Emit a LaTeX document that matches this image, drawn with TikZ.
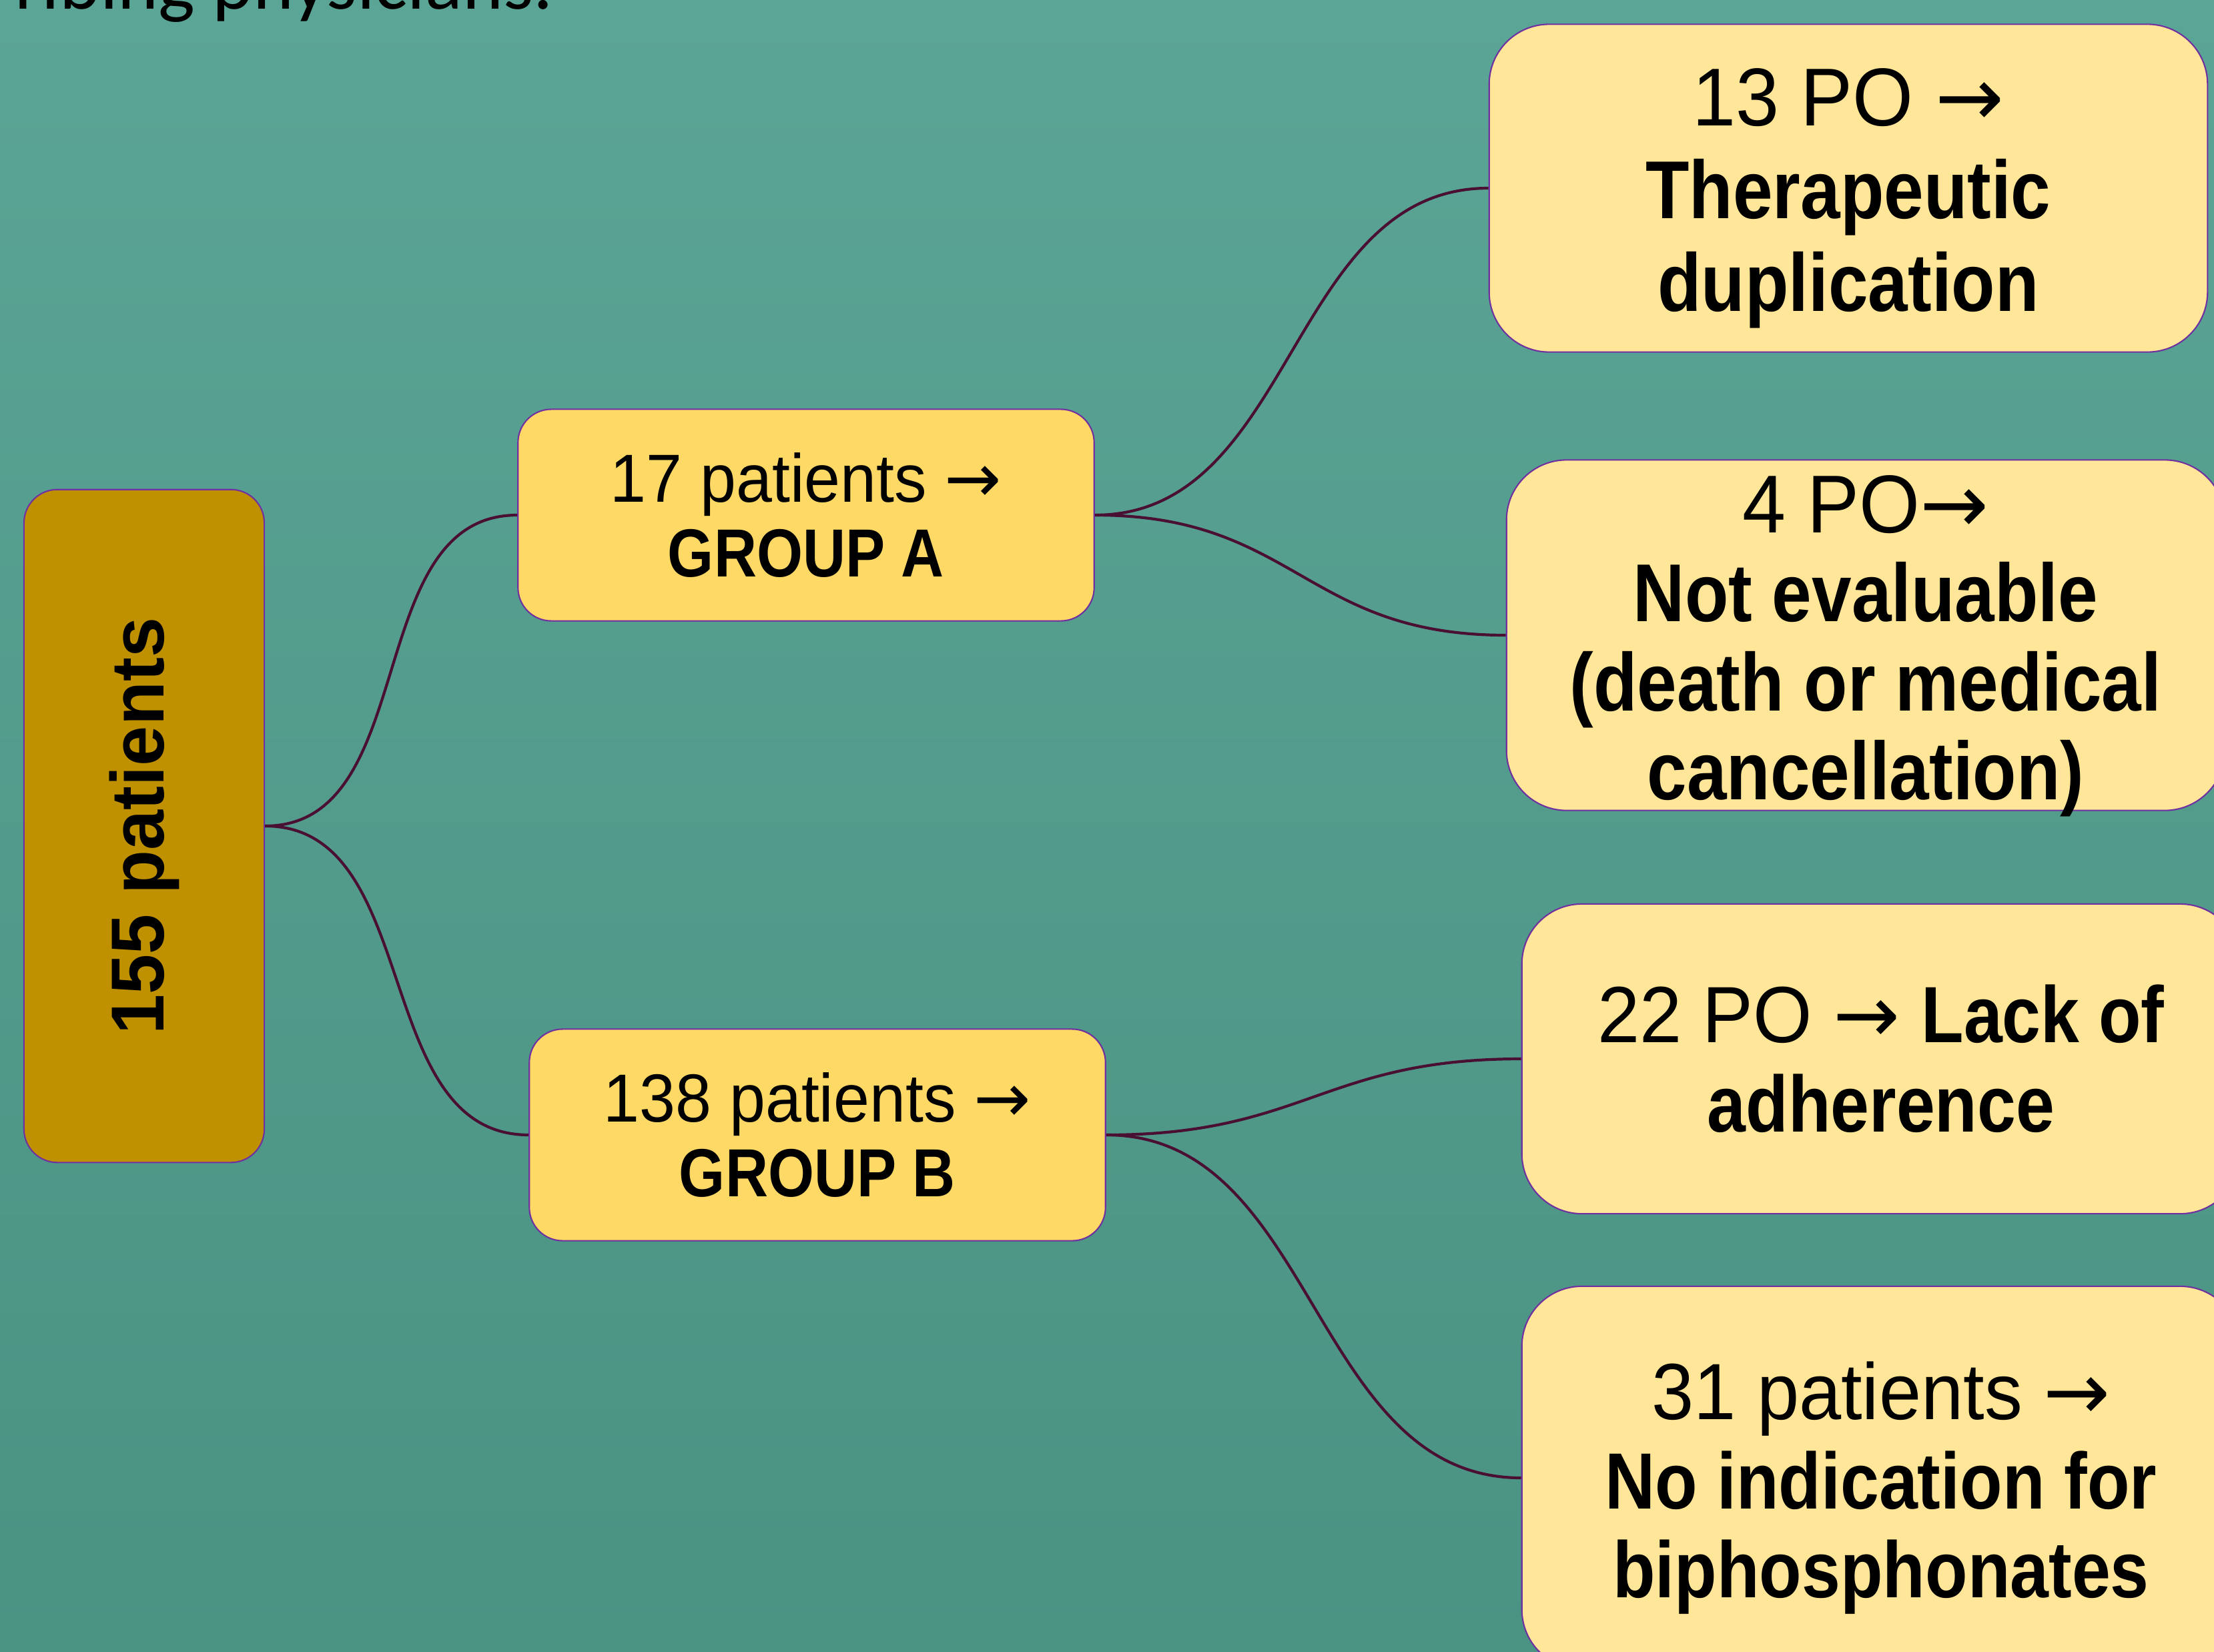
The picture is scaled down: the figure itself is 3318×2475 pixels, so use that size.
\documentclass[tikz,border=0pt]{standalone}
\usepackage{fontspec}
\setmainfont{Liberation Sans}[FakeStretch=0.95, BoldFeatures={FakeStretch=0.87}]
\newfontfamily\rootfont{Liberation Sans}[FakeStretch=0.96]
\newfontfamily\slidefont{Carlito}
\newfontfamily\arrowfont{DejaVu Sans}
\newcommand{\toarrow}{{\arrowfont\mdseries →}}
\newcommand{\lowstrut}[1][1.17cm]{\rule{0pt}{#1}}
\usepackage{xcolor}
\usepackage{tikz}

\definecolor{bgtop}{HTML}{5BA596}
\definecolor{bgbottom}{HTML}{4A9282}
\definecolor{rootgold}{HTML}{BF9000}
\definecolor{groupyellow}{HTML}{FFD966}
\definecolor{leafyellow}{HTML}{FFE699}
\definecolor{boxline}{HTML}{7030A0}
\definecolor{linkpurple}{HTML}{4A1034}

\begin{document}
\begin{tikzpicture}[x=0.01cm, y=-0.01cm,
		every node/.style={draw=boxline, line width=0.6pt, align=center, inner sep=0pt},
		rootbox/.style={fill=rootgold, rounded corners=0.5cm, minimum width=3.6cm, minimum height=10.08cm},
		groupbox/.style={fill=groupyellow, rounded corners=0.5cm, minimum width=8.63cm, minimum height=3.17cm, font=\fontsize{29pt}{32pt}\selectfont},
		leafbox/.style={fill=leafyellow, rounded corners=0.9cm, minimum width=10.76cm, font=\fontsize{34pt}{38pt}\selectfont},
		link/.style={draw=linkpurple, line width=1.2pt, out=0, in=180}]
	
	% Slide
	\useasboundingbox (0,0) rectangle (3318,2475);
	\clip (0,0) rectangle (3318,2475);
	\fill[top color=bgtop, bottom color=bgbottom] (0,0) rectangle (3318,2475);
	\node[draw=none, anchor=base east, font=\slidefont\fontsize{33pt}{36pt}\selectfont] (title) at (830,13) {ribing physicians.};
	
	% Root
	\node[rootbox] (root) at (216,1238) {\rotatebox{90}{\rootfont\fontsize{32pt}{36pt}\selectfont\bfseries 155 patients}};
	
	% Groups
	\node[groupbox] (groupA) at (1208,772) {17 patients \toarrow\\\textbf{GROUP A}};
	\node[groupbox] (groupB) at (1225,1701) {138 patients \toarrow\\\textbf{GROUP B}};
	
	% Reasons
	\node[leafbox, minimum height=4.91cm, font=\fontsize{35pt}{39.5pt}\selectfont] (dup) at (2770,282) {\lowstrut13 PO \toarrow\\\textbf{Therapeutic}\\\textbf{duplication}};
	\node[leafbox, minimum height=5.25cm, font=\fontsize{35pt}{38pt}\selectfont] (noteval) at (2796,952) {\lowstrut[0.93cm]4 PO\toarrow\\\textbf{Not evaluable}\\\textbf{(death or medical}\\\smash{\textbf{cancellation)}}};
	\node[leafbox, minimum height=4.64cm] (adher) at (2819,1587) {22 PO \toarrow{} \textbf{Lack of}\\\textbf{adherence}};
	\node[leafbox, minimum height=5.74cm] (noind) at (2819,2215) {\lowstrut31 patients \toarrow\\\textbf{No indication for}\\\textbf{biphosphonates}};
	
	% Connections
	\draw[link] (root.east) to (groupA.west);
	\draw[link] (root.east) to (groupB.west);
	
	\draw[link] (groupA.east) to (dup.west);
	\draw[link, looseness=1.2] (groupA.east) to (noteval.west);
	\draw[link, looseness=1.2] (groupB.east) to (adher.west);
	\draw[link] (groupB.east) to (noind.west);
	
\end{tikzpicture}
\end{document}
